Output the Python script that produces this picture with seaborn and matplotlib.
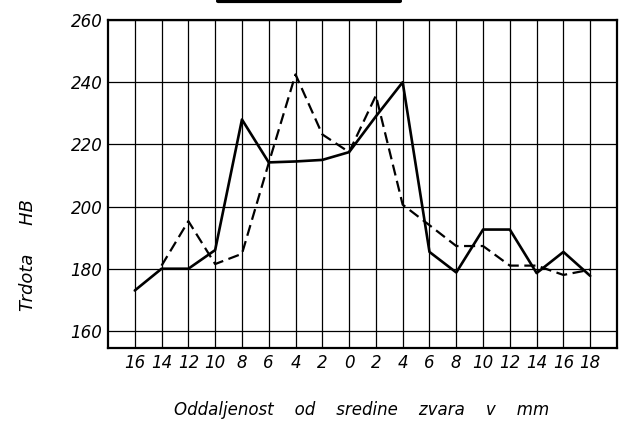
import numpy as np
import pandas as pd
import matplotlib
matplotlib.use("Agg")
import matplotlib.pyplot as plt
import seaborn as sns
from matplotlib.lines import Line2D

x_labels = ["16", "14", "12", "10", "8", "6", "4", "2", "0", "2", "4", "6", "8", "10", "12", "14", "16", "18"]
solid_hb = [173, 180, 180, 186, 228, 214.2, 214.5, 215, 217.5, 229, 240, 185.4, 178.8, 192.6, 192.6, 178.6, 185.4, 177.7]
dashed_hb = [np.nan, 181, 195.3, 181.5, 184.8, 214, 242.5, 223.2, 217.5, 235.7, 200.6, 194, 187.3, 187.3, 181, 181, 178, 179.7]
y_ticks = [160, 180, 200, 220, 240, 260]

pos = np.arange(len(x_labels))
df_solid = pd.DataFrame({"pos": pos, "hb": solid_hb})
df_dashed = pd.DataFrame({"pos": pos, "hb": dashed_hb})

sns.set_theme(style="white")
plt.rcParams["font.family"] = ["DejaVu Sans"]
plt.rcParams["text.color"] = "black"
plt.rcParams["xtick.color"] = "black"
plt.rcParams["ytick.color"] = "black"

fig = plt.figure(figsize=(6.22, 4.23), dpi=100)
ax = fig.add_axes([108 / 622, 1 - 348 / 423, (617 - 108) / 622, (348 - 20) / 423])

sns.lineplot(data=df_solid, x="pos", y="hb", ax=ax, color="black", lw=1.9)
sns.lineplot(data=df_dashed.dropna(), x="pos", y="hb", ax=ax, color="black", lw=1.6,
             linestyle=(0, (5, 2.5)))

ax.set_xlim(-1, len(x_labels))
ax.set_ylim(154.5, 260)
ax.set_xticks(pos)
ax.set_xticklabels(x_labels, fontsize=12, style="italic", color="black")
ax.set_yticks(y_ticks)
ax.set_yticklabels([str(v) for v in y_ticks], fontsize=12, style="italic", color="black")
ax.tick_params(axis="both", length=0, pad=4)
ax.grid(True, color="black", lw=0.9)
for s in ax.spines.values():
    s.set_color("black")
    s.set_linewidth(1.6)
ax.set_xlabel("")
ax.set_ylabel("")

fig.text(28 / 622, 1 - 255 / 423, "Trdota     HB", rotation=90, ha="center", va="center",
         fontsize=13, style="italic", color="black")
fig.text(362 / 622, 1 - 410 / 423, "Oddaljenost    od    sredine    zvara    v    mm",
         ha="center", va="center", fontsize=12, style="italic", color="black")

fig.add_artist(Line2D([218 / 622, 400 / 622], [1 - 1 / 423, 1 - 1 / 423], color="black", lw=3,
                      transform=fig.transFigure))

fig.savefig("out.png", dpi=100)
